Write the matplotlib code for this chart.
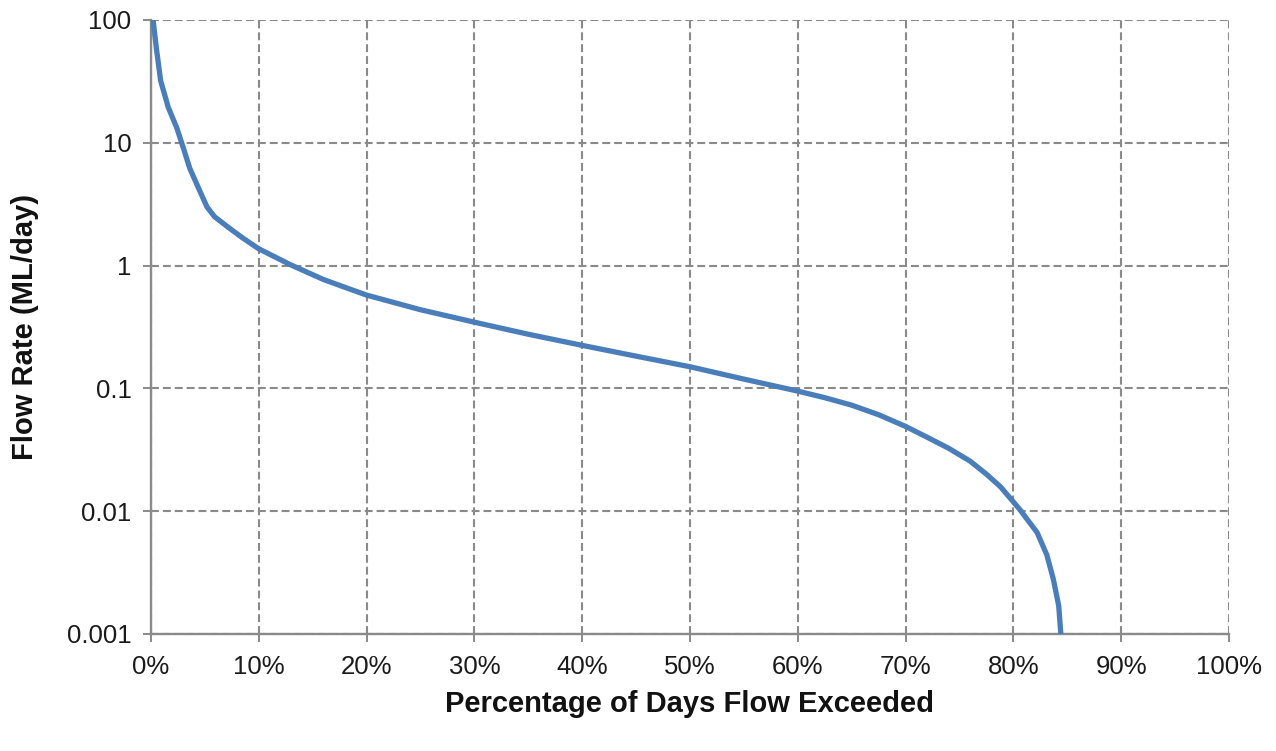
import matplotlib
matplotlib.use("Agg")
import matplotlib.pyplot as plt
from matplotlib.ticker import FixedLocator, FuncFormatter, NullLocator

# Flow duration curve: percentage of days exceeded vs flow rate (ML/day)
exceed_pct = [0.2, 0.5, 0.9, 1.6, 2.4, 3.0, 3.6, 4.4, 5.2, 5.9, 7.2, 8.5, 10.0,
              12.9, 16.0, 18.0, 20.0, 25.0, 30.0, 35.0, 40.0, 45.0, 50.0, 55.0,
              60.0, 62.5, 65.0, 67.5, 70.0, 72.0, 74.0, 76.0, 77.5, 78.8, 80.6,
              82.2, 83.1, 83.7, 84.2, 84.4]
flow_ml_day = [100, 59, 32, 19.5, 13.2, 9.1, 6.2, 4.3, 3.0, 2.5, 2.04, 1.68, 1.37,
               1.02, 0.77, 0.665, 0.575, 0.437, 0.346, 0.276, 0.224, 0.183, 0.15,
               0.119, 0.095, 0.084, 0.073, 0.061, 0.049, 0.040, 0.0325, 0.0255,
               0.020, 0.0158, 0.0103, 0.0067, 0.0044, 0.0028, 0.0017, 0.001]

x_ticks = list(range(0, 101, 10))
y_ticks = [0.001, 0.01, 0.1, 1, 10, 100]
y_tick_labels = ["0.001", "0.01", "0.1", "1", "10", "100"]

plt.rcParams["font.family"] = ["Liberation Sans", "DejaVu Sans"]

fig = plt.figure(figsize=(12.76, 7.51), dpi=100)
ax = fig.add_axes([0.1183, 0.1558, 0.8449, 0.8176])

ax.plot(exceed_pct, flow_ml_day, color="#4A7EBB", lw=3.8,
        solid_joinstyle="round", solid_capstyle="butt", zorder=3)

ax.set_yscale("log")
ax.set_xlim(0, 100)
ax.set_ylim(0.001, 100)

ax.xaxis.set_major_locator(FixedLocator(x_ticks))
ax.xaxis.set_major_formatter(FuncFormatter(lambda v, p: f"{v:.0f}%"))
ax.yaxis.set_major_locator(FixedLocator(y_ticks))
ax.yaxis.set_major_formatter(FuncFormatter(
    lambda v, p: y_tick_labels[min(range(len(y_ticks)), key=lambda i: abs(y_ticks[i] - v) / y_ticks[i])]))
ax.yaxis.set_minor_locator(NullLocator())

ax.grid(True, which="major", color="#8A8A8A", linestyle=(0, (3.8, 1.9)), linewidth=1.5)
ax.set_axisbelow(True)

for s in ["top", "right"]:
    ax.spines[s].set_visible(False)
for s in ["left", "bottom"]:
    ax.spines[s].set_color("#8A8A8A")
    ax.spines[s].set_linewidth(1.7)

ax.tick_params(axis="both", which="major", direction="out", length=6, width=1.4,
               color="#8A8A8A", labelsize=18.5, labelcolor="#1A1A1A", pad=8)
ax.tick_params(axis="x", pad=9)

ax.set_xlabel("Percentage of Days Flow Exceeded", fontsize=21, fontweight="bold",
              labelpad=8, color="#111111")
ax.set_ylabel("Flow Rate (ML/day)", fontsize=21, fontweight="bold",
              labelpad=20, color="#111111")

fig.savefig("out.png", dpi=100)
